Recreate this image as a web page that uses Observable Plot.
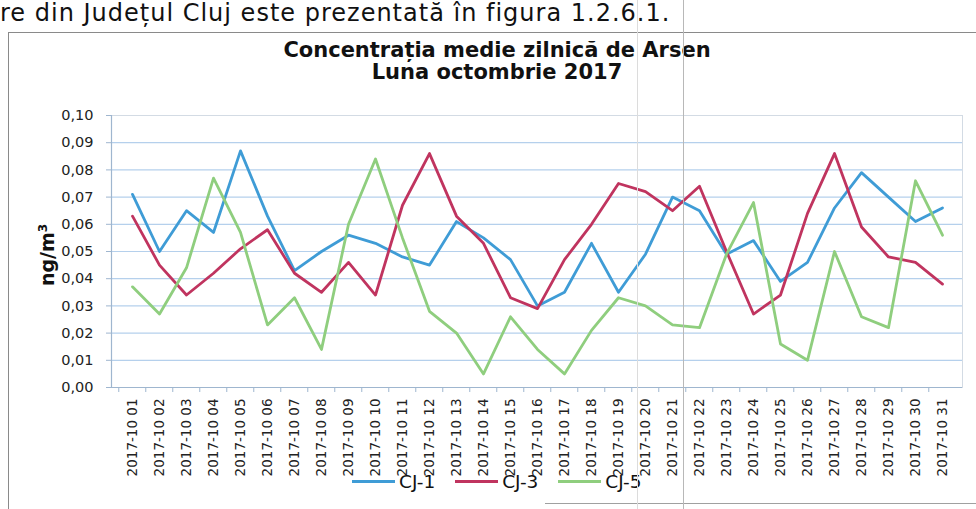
<!DOCTYPE html>
<html><head><meta charset="utf-8">
<script src="https://cdn.jsdelivr.net/npm/d3@7"></script>
<script src="https://cdn.jsdelivr.net/npm/@observablehq/plot@0.6"></script>
<style>
body{margin:0;background:#fff;}
#wrap{position:relative;width:976px;height:509px;overflow:hidden;background:#fff;font-family:"DejaVu Sans",sans-serif;color:#111;}
#chart{position:absolute;left:0;top:0;}
#header{position:absolute;left:0;top:0;font-family:"DejaVu Sans",sans-serif;font-size:24px;line-height:27px;letter-spacing:1px;white-space:nowrap;color:#111;}
#border{position:absolute;left:8px;top:32px;width:980px;height:490px;border-left:1.5px solid #8a8a8a;border-top:1.5px solid #8a8a8a;}
#bline{position:absolute;left:545px;top:503px;width:440px;height:0;border-top:1px solid #a0a0a0;}
#title{position:absolute;left:0;width:994px;top:39px;text-align:center;font-weight:bold;font-size:21px;line-height:22px;color:#111;}
#ylab{position:absolute;left:47px;top:255px;transform:translate(-50%,-50%) rotate(-90deg);font-weight:bold;font-size:19px;white-space:nowrap;color:#111;}
#ylab sup{font-size:12px;}
#legend{position:absolute;left:352px;top:471px;display:flex;align-items:center;gap:20px;font-size:18.5px;color:#111;}
.item{display:flex;align-items:center;}
.sw{display:inline-block;width:43px;height:3px;margin-right:4px;}
.scan{position:absolute;top:0;width:1px;height:509px;}
</style></head><body><div id="wrap">
<div id="header">re din Județul Cluj este prezentată în figura 1.2.6.1.</div>
<div id="border"></div>
<div id="bline"></div>
<div id="title">Concentrația medie zilnică de Arsen<br>Luna octombrie 2017</div>
<div id="chart"></div>
<div id="ylab">ng/m<sup>3</sup></div>
<div id="legend"></div>
<div class="scan" style="left:637px;background:#dcdcdc"></div>
<div class="scan" style="left:683px;background:#b8b8b8"></div>
</div>
<script>
const days = ["2017-10 01","2017-10 02","2017-10 03","2017-10 04","2017-10 05","2017-10 06","2017-10 07","2017-10 08","2017-10 09","2017-10 10","2017-10 11","2017-10 12","2017-10 13","2017-10 14","2017-10 15","2017-10 16","2017-10 17","2017-10 18","2017-10 19","2017-10 20","2017-10 21","2017-10 22","2017-10 23","2017-10 24","2017-10 25","2017-10 26","2017-10 27","2017-10 28","2017-10 29","2017-10 30","2017-10 31"];
const cj1 = [0.071,0.050,0.065,0.057,0.087,0.063,0.043,0.050,0.056,0.053,0.048,0.045,0.061,0.055,0.047,0.030,0.035,0.053,0.035,0.049,0.070,0.065,0.049,0.054,0.039,0.046,0.066,0.079,0.070,0.061,0.066];
const cj3 = [0.063,0.045,0.034,0.042,0.051,0.058,0.042,0.035,0.046,0.034,0.067,0.086,0.063,0.053,0.033,0.029,0.047,0.060,0.075,0.072,0.065,0.074,0.050,0.027,0.034,0.064,0.086,0.059,0.048,0.046,0.038];
const cj5 = [0.037,0.027,0.044,0.077,0.057,0.023,0.033,0.014,0.060,0.084,0.055,0.028,0.020,0.005,0.026,0.014,0.005,0.021,0.033,0.030,0.023,0.022,0.049,0.068,0.016,0.010,0.050,0.026,0.022,0.076,0.056];
const seriesNames = ["CJ-1","CJ-3","CJ-5"];
const seriesColors = ["#3f9cd6","#c0345f","#8fce7e"];
const yTicks = [0,0.01,0.02,0.03,0.04,0.05,0.06,0.07,0.08,0.09,0.10];

const rows = [];
[cj1, cj3, cj5].forEach((vals, si) => vals.forEach((v, i) => rows.push({day: days[i], value: v, series: seriesNames[si]})));

const W = 976, H = 509, mL = 111, mR = 14, mT = 115, mB = 122;
const step = (W - mL - mR) / days.length;
const axisColor = "#9fb6cf";

const plot = Plot.plot({
  width: W, height: H,
  marginLeft: mL, marginRight: mR, marginTop: mT, marginBottom: mB,
  style: {fontFamily: "DejaVu Sans, sans-serif", background: "transparent", color: "#222"},
  x: {type: "point", domain: days, padding: 0.5},
  y: {domain: [0, 0.1]},
  color: {domain: seriesNames, range: seriesColors},
  marks: [
    Plot.ruleY(yTicks.slice(1), {stroke: "#b5d0ec", strokeWidth: 1.2}),
    Plot.frame({stroke: "#d3dbe4"}),
    Plot.ruleY([0], {stroke: axisColor, strokeWidth: 1.2}),
    Plot.frame({anchor: "left", stroke: axisColor, strokeWidth: 1.2}),
    Plot.axisY({ticks: yTicks, text: null, tickSize: 5, color: axisColor, label: null}),
    Plot.axisY({ticks: yTicks, tickFormat: d => d3.format(".2f")(d).replace(".", ","), tickSize: 0, tickPadding: 18, fontSize: 14.5, color: "#222", label: null}),
    Plot.axisX({ticks: days, text: null, tickSize: 5, dx: -step / 2, color: axisColor, label: null}),
    Plot.axisX({ticks: days, tickRotate: -90, tickSize: 0, tickPadding: 11, fontSize: 13.5, color: "#222", label: null}),
    Plot.line(rows, {x: "day", y: "value", stroke: "series", z: "series", strokeWidth: 2.8, strokeLinejoin: "round", strokeLinecap: "round"})
  ]
});
document.getElementById("chart").appendChild(plot);

const legend = document.getElementById("legend");
seriesNames.forEach((name, i) => {
  const item = document.createElement("span");
  item.className = "item";
  const sw = document.createElement("span");
  sw.className = "sw";
  sw.style.background = seriesColors[i];
  item.appendChild(sw);
  item.appendChild(document.createTextNode(name));
  legend.appendChild(item);
});
</script>
</body></html>
